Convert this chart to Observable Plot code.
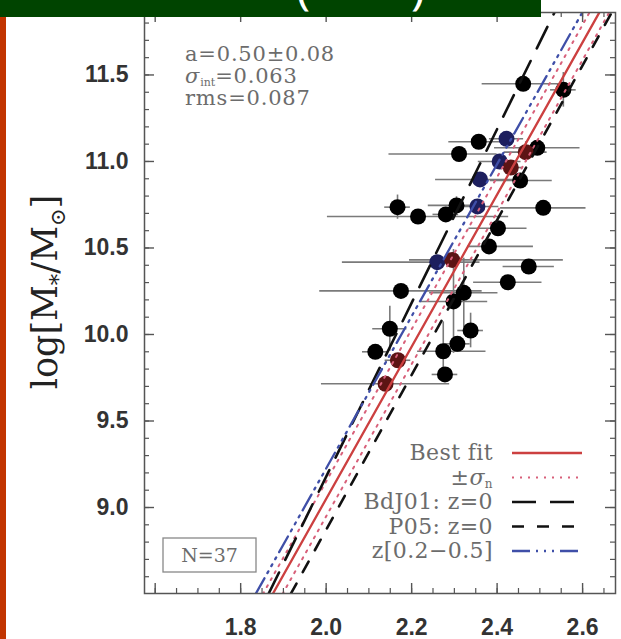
<!DOCTYPE html>
<html>
<head>
<meta charset="utf-8">
<script src="https://cdn.jsdelivr.net/npm/d3@7"></script>
<script src="https://cdn.jsdelivr.net/npm/@observablehq/plot@0.6"></script>
<style>
  html, body { margin: 0; padding: 0; background: #fff; width: 621px; height: 639px; overflow: hidden; }
  #page { position: relative; width: 621px; height: 639px; }
  #banner { position: absolute; left: 0; top: 0; width: 541px; height: 17px; background: #004400; overflow: hidden; z-index: 2; }
  #banner span { position: absolute; top: -38px; color: #fff; font: 48px/48px "Open Sans", sans-serif; }
  #bar { position: absolute; left: 0; top: 17px; width: 6px; height: 622px; background: #c23400; z-index: 2; }
  #chart { position: absolute; left: 0; top: 0; }
</style>
</head>
<body>
<div id="page">
  <div id="banner"><span style="left:296px">(</span><span style="left:411px">)</span></div>
  <div id="bar"></div>
  <div id="chart"></div>
</div>
<script>
// log V (x) and log stellar mass (y) for each galaxy, with error bars
const logV    = [2.555, 2.461, 2.422, 2.357, 2.311, 2.406, 2.494, 2.467, 2.454, 2.360, 2.432, 2.167, 2.215, 2.280, 2.305, 2.354, 2.508, 2.402, 2.381, 2.260, 2.295, 2.474, 2.425, 2.175, 2.322, 2.298, 2.149, 2.338, 2.115, 2.168, 2.274, 2.278, 2.139, 2.307];
const logM    = [11.414, 11.449, 11.131, 11.114, 11.043, 11.000, 11.079, 11.054, 10.890, 10.896, 10.965, 10.736, 10.682, 10.694, 10.746, 10.740, 10.732, 10.614, 10.509, 10.418, 10.431, 10.393, 10.302, 10.252, 10.241, 10.191, 10.033, 10.023, 9.900, 9.851, 9.903, 9.769, 9.715, 9.946];
const errVlo  = [0.03, 0.096, 0.04, 0.07, 0.164, 0.05, 0.10, 0.05, 0.07, 0.104, 0.03, 0.03, 0.212, 0.03, 0.066, 0.05, 0.10, 0.068, 0.05, 0.222, 0.10, 0.06, 0.08, 0.19, 0.08, 0.08, 0.04, 0.03, 0.03, 0.03, 0.06, 0.03, 0.15, 0.03];
const errVhi  = [0.03, 0.096, 0.04, 0.07, 0.089, 0.05, 0.10, 0.05, 0.075, 0.10, 0.03, 0.03, 0.212, 0.03, 0.066, 0.05, 0.10, 0.068, 0.104, 0.10, 0.26, 0.06, 0.08, 0.19, 0.08, 0.08, 0.04, 0.03, 0.03, 0.03, 0.10, 0.03, 0.15, 0.03];
const errM    = [0.10, 0.03, 0, 0.03, 0.03, 0, 0, 0.06, 0, 0, 0, 0.07, 0, 0, 0.05, 0, 0.04, 0, 0, 0, 0, 0, 0, 0, 0.2, 0.3, 0.13, 0.1, 0, 0, 0.17, 0, 0, 0];
const tint    = ["k","k","b","k","k","b","k","r","k","b","r","k","k","k","k","b","k","k","k","b","r","k","k","k","k","k","k","k","k","r","k","k","r","k"];

// relations: x at the bottom (y = 8.5) and top (y = 11.86) of the panel
const relName = ["fit", "fitLo", "fitHi", "BdJ01", "P05", "zmid"];
const relX0   = [1.875, 1.852, 1.898, 1.865, 1.917, 1.835];
const relX1   = [2.639, 2.616, 2.662, 2.534, 2.668, 2.599];
const relY    = [8.5, 11.86];

// axes
const xDomain = [1.575, 2.677];
const yDomain = [8.503, 11.861];
const xLabels = [1.8, 2.0, 2.2, 2.4, 2.6];
const xMajor  = [1.6, 1.8, 2.0, 2.2, 2.4, 2.6];
const xMinor  = d3.range(1.6, 2.676, 0.05);
const yLabels = [9.0, 9.5, 10.0, 10.5, 11.0, 11.5];
const yMinor  = d3.range(8.6, 11.86, 0.1);

const tintColor = {k: "#000000", b: "#1d1f5e", r: "#5c1414"};

const pts = logV.map((x, i) => ({x, y: logM[i], xlo: x - errVlo[i], xhi: x + errVhi[i],
  ylo: logM[i] - errM[i], yhi: logM[i] + errM[i], t: tint[i], e: errM[i]}));

const rel = relName.map((name, i) => [
  {name, x: relX0[i], y: relY[0]},
  {name, x: relX1[i], y: relY[1]}
]);

const styles = {
  fit:   {stroke: "#cc4040", strokeWidth: 2.3},
  fitLo: {stroke: "#d8607a", strokeWidth: 2, strokeDasharray: "2,6"},
  fitHi: {stroke: "#d8607a", strokeWidth: 2, strokeDasharray: "2,6"},
  BdJ01: {stroke: "#111", strokeWidth: 2.6, strokeDasharray: "24,14"},
  P05:   {stroke: "#111", strokeWidth: 2.6, strokeDasharray: "12,13"},
  zmid:  {stroke: "#3f4fa8", strokeWidth: 2.3, strokeDasharray: "18,6,2,6,2,6,2,6"}
};

const W = 621, H = 639, mL = 144, mR = 6, mT = 12, mB = 46;
const pw = W - mL - mR, ph = H - mT - mB;
const axisCol = "#555";

const chart = Plot.plot({
  width: W, height: H,
  marginLeft: mL, marginRight: mR, marginTop: mT, marginBottom: mB,
  x: {domain: xDomain},
  y: {domain: yDomain},
  style: {fontFamily: "'Liberation Sans', Arial, sans-serif", background: "transparent"},
  marks: [
    // error bars
    Plot.ruleY(pts, {y: "y", x1: "xlo", x2: "xhi", stroke: "#7a7a7a", strokeWidth: 1.6, clip: true}),
    Plot.ruleX(pts.filter(d => d.e > 0), {x: "x", y1: "ylo", y2: "yhi", stroke: "#7a7a7a", strokeWidth: 1.6, clip: true}),
    // galaxies
    Plot.dot(pts, {x: "x", y: "y", r: 8, fill: d => tintColor[d.t], stroke: "none"}),
    // relations
    ...rel.map(r => Plot.line(r, {x: "x", y: "y", clip: true, ...styles[r[0].name]})),
    // inward ticks on all four sides
    Plot.tickX(xMinor, {x: d => d, insetTop: ph - 5, stroke: axisCol, strokeWidth: 1.2}),
    Plot.tickX(xMinor, {x: d => d, insetBottom: ph - 5, stroke: axisCol, strokeWidth: 1.2}),
    Plot.tickX(xMajor, {x: d => d, insetTop: ph - 10, stroke: axisCol, strokeWidth: 1.4}),
    Plot.tickX(xMajor, {x: d => d, insetBottom: ph - 10, stroke: axisCol, strokeWidth: 1.4}),
    Plot.tickY(yMinor, {y: d => d, insetRight: pw - 5, stroke: axisCol, strokeWidth: 1.2}),
    Plot.tickY(yMinor, {y: d => d, insetLeft: pw - 5, stroke: axisCol, strokeWidth: 1.2}),
    Plot.tickY(yLabels, {y: d => d, insetRight: pw - 10, stroke: axisCol, strokeWidth: 1.4}),
    Plot.tickY(yLabels, {y: d => d, insetLeft: pw - 10, stroke: axisCol, strokeWidth: 1.4}),
    Plot.frame({stroke: axisCol, strokeWidth: 1.5}),
    Plot.axisX({ticks: xLabels, tickSize: 0, tickPadding: 25, tickFormat: d3.format(".1f"), label: null,
      fontSize: 23, fontWeight: "bold", fill: "#333"}),
    Plot.axisY({ticks: yLabels, tickSize: 0, tickPadding: 16, tickFormat: d3.format(".1f"), label: null,
      fontSize: 23, fontWeight: "bold", fill: "#333"})
  ]
});
document.getElementById("chart").appendChild(chart);

const svg = d3.select(chart);
const serif = "'DejaVu Serif', serif";
const grey = "#6c6c6c";

// y-axis title
const yt = svg.append("text")
  .attr("transform", "translate(57,292) rotate(-90)")
  .attr("text-anchor", "middle")
  .attr("font-family", serif).attr("font-size", 35).attr("fill", "#222");
yt.append("tspan").text("log[M");
yt.append("tspan").attr("font-size", 23).attr("dy", 9).text("*");
yt.append("tspan").attr("dy", -9).text("/M");
yt.append("tspan").attr("font-size", 21).attr("dy", 8).text("\u2299");
yt.append("tspan").attr("dy", -8).text("]");

// fit statistics
const stats = svg.append("g").attr("font-family", serif).attr("font-size", 21)
  .attr("letter-spacing", 0.8).attr("fill", grey).attr("text-anchor", "start");
stats.append("text").attr("x", 185).attr("y", 61).text("a=0.50\u00b10.08");
const s2 = stats.append("text").attr("x", 185).attr("y", 83);
s2.append("tspan").attr("font-style", "italic").text("\u03c3");
s2.append("tspan").attr("font-size", 11).attr("dy", 3).attr("letter-spacing", 0).text("int");
s2.append("tspan").attr("dy", -3).text("=0.063");
stats.append("text").attr("x", 185).attr("y", 105).text("rms=0.087");

// sample size
svg.append("rect").attr("x", 163).attr("y", 538).attr("width", 93).attr("height", 34)
  .attr("fill", "none").attr("stroke", "#888").attr("stroke-width", 1.3);
svg.append("text").attr("x", 209.5).attr("y", 562).attr("text-anchor", "middle")
  .attr("font-family", serif).attr("font-size", 19).attr("fill", grey).text("N=37");

// legend
const legendRows = [
  {key: "fit",   label: "Best fit"},
  {key: "fitLo", label: null},
  {key: "BdJ01", label: "BdJ01: z=0"},
  {key: "P05",   label: "P05: z=0"},
  {key: "zmid",  label: "z[0.2\u22120.5]"}
];
const lg = svg.append("g").attr("font-family", serif).attr("font-size", 22)
  .attr("letter-spacing", 0.4).attr("fill", grey);
legendRows.forEach((row, i) => {
  const yb = 460 + i * 24.5;
  const t = lg.append("text").attr("x", 493).attr("y", yb).attr("text-anchor", "end");
  if (row.label) t.text(row.label);
  else {
    t.append("tspan").text("\u00b1");
    t.append("tspan").attr("font-style", "italic").text("\u03c3");
    t.append("tspan").attr("font-size", 12).attr("dy", 3).text("n");
  }
  const st = styles[row.key];
  lg.append("line").attr("x1", 512).attr("x2", 582).attr("y1", yb - 7).attr("y2", yb - 7)
    .attr("stroke", st.stroke).attr("stroke-width", st.strokeWidth)
    .attr("stroke-dasharray", st.strokeDasharray || null);
});
</script>
</body>
</html>
